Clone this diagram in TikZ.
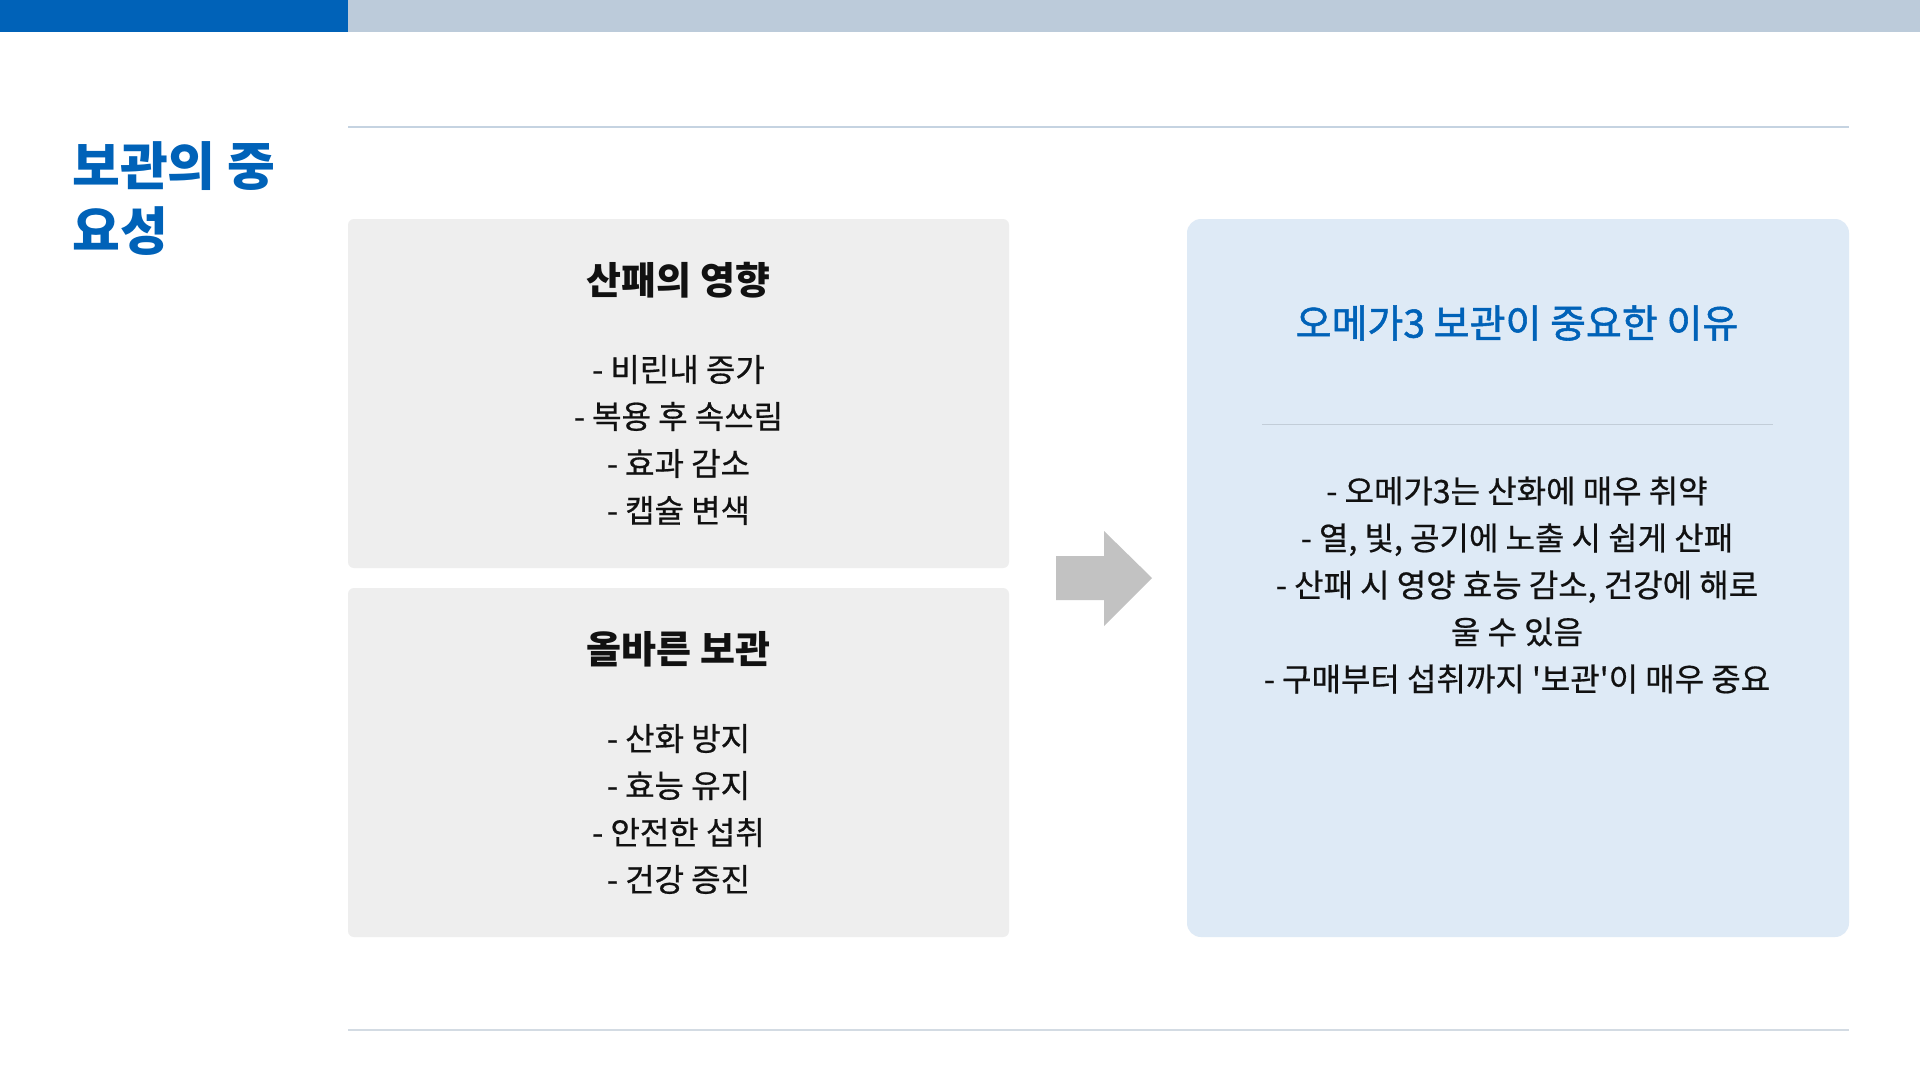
\documentclass[tikz,border=0pt]{standalone}
\usepackage{fontspec}
\setmainfont{Noto Sans CJK KR}
\newfontfamily\krbody[FakeBold=0.6]{Noto Sans CJK KR}
\newfontfamily\krmid[FakeBold=1.4]{Noto Sans CJK KR}
\definecolor{mainblue}{HTML}{0062B8}
\definecolor{bargrey}{HTML}{BCCBDA}
\definecolor{rulecol}{HTML}{C5D3E1}
\definecolor{rulecoltwo}{HTML}{D3DBE3}
\definecolor{boxgrey}{HTML}{EEEEEE}
\definecolor{boxblue}{HTML}{DEEAF6}
\definecolor{arrowgrey}{HTML}{C2C2C2}
\definecolor{divcol}{HTML}{C2CDD8}
\definecolor{txt}{HTML}{111111}
\tikzset{
  greybox/.style={fill=boxgrey, draw=none, rounded corners=6pt, minimum width=661pt, minimum height=349pt, inner sep=0pt},
  bluebox/.style={fill=boxblue, draw=none, rounded corners=14pt, minimum width=662pt, minimum height=718pt, inner sep=0pt},
  boxtitle/.style={font=\fontsize{38}{44}\selectfont\bfseries, text=txt, inner sep=0pt},
  bodytext/.style={font=\krbody\fontsize{32}{47}\selectfont, text=txt, align=center, inner sep=0pt},
}
\begin{document}
\begin{tikzpicture}[x=1pt,y=-1pt]
\useasboundingbox (0,0) rectangle (1920,1080);
\fill[white] (0,0) rectangle (1920,1080);
% top bar
\fill[mainblue] (0,0) rectangle (348,32);
\fill[bargrey] (348,0) rectangle (1920,32);
% rules
\coordinate (rtl) at (348,127);
\coordinate (rtr) at (1849,127);
\coordinate (rbl) at (348,1030);
\coordinate (rbr) at (1849,1030);
\draw[rulecol, line width=1.5pt] (rtl) -- (rtr);
\draw[rulecoltwo, line width=1.5pt] (rbl) -- (rbr);
% page title
\node[anchor=west, align=left, inner sep=0pt, text=mainblue,
      font=\fontsize{52}{65}\selectfont\bfseries] (ptitle) at (72,199) {보관의 중\\요성};
% boxes
\node[greybox] (b1) at (678.5,393.5) {};
\node[greybox] (b2) at (678.5,762.5) {};
\node[bluebox] (b3) at (1518,578) {};
% box 1 text
\node[boxtitle] (t1) at (678.5,280) {산패의 영향};
\node[bodytext] (l1) at (678.5,440) {- 비린내 증가\\- 복용 후 속쓰림\\- 효과 감소\\- 캡슐 변색};
% box 2 text
\node[boxtitle] (t2) at (678.5,649) {올바른 보관};
\node[bodytext] (l2) at (678.5,809) {- 산화 방지\\- 효능 유지\\- 안전한 섭취\\- 건강 증진};
% right box text
\node[font=\krmid\fontsize{39}{45}\selectfont, text=mainblue, inner sep=0pt] (t3) at (1517,323) {오메가3 보관이 중요한 이유};
\coordinate (dl) at (1262,424);
\coordinate (dr) at (1773,424);
\draw[divcol, line width=1pt] (dl) -- (dr);
\node[bodytext] (l3) at (1517,585) {- 오메가3는 산화에 매우 취약\\- 열, 빛, 공기에 노출 시 쉽게 산패\\- 산패 시 영양 효능 감소, 건강에 해로\\울 수 있음\\- 구매부터 섭취까지 {\char39}보관{\char39}이 매우 중요};
% block arrow
\fill[arrowgrey] (1056,556) -- (1104,556) -- (1104,531) -- (1152,578) -- (1104,626) -- (1104,600) -- (1056,600) -- cycle;
\end{tikzpicture}
\end{document}
